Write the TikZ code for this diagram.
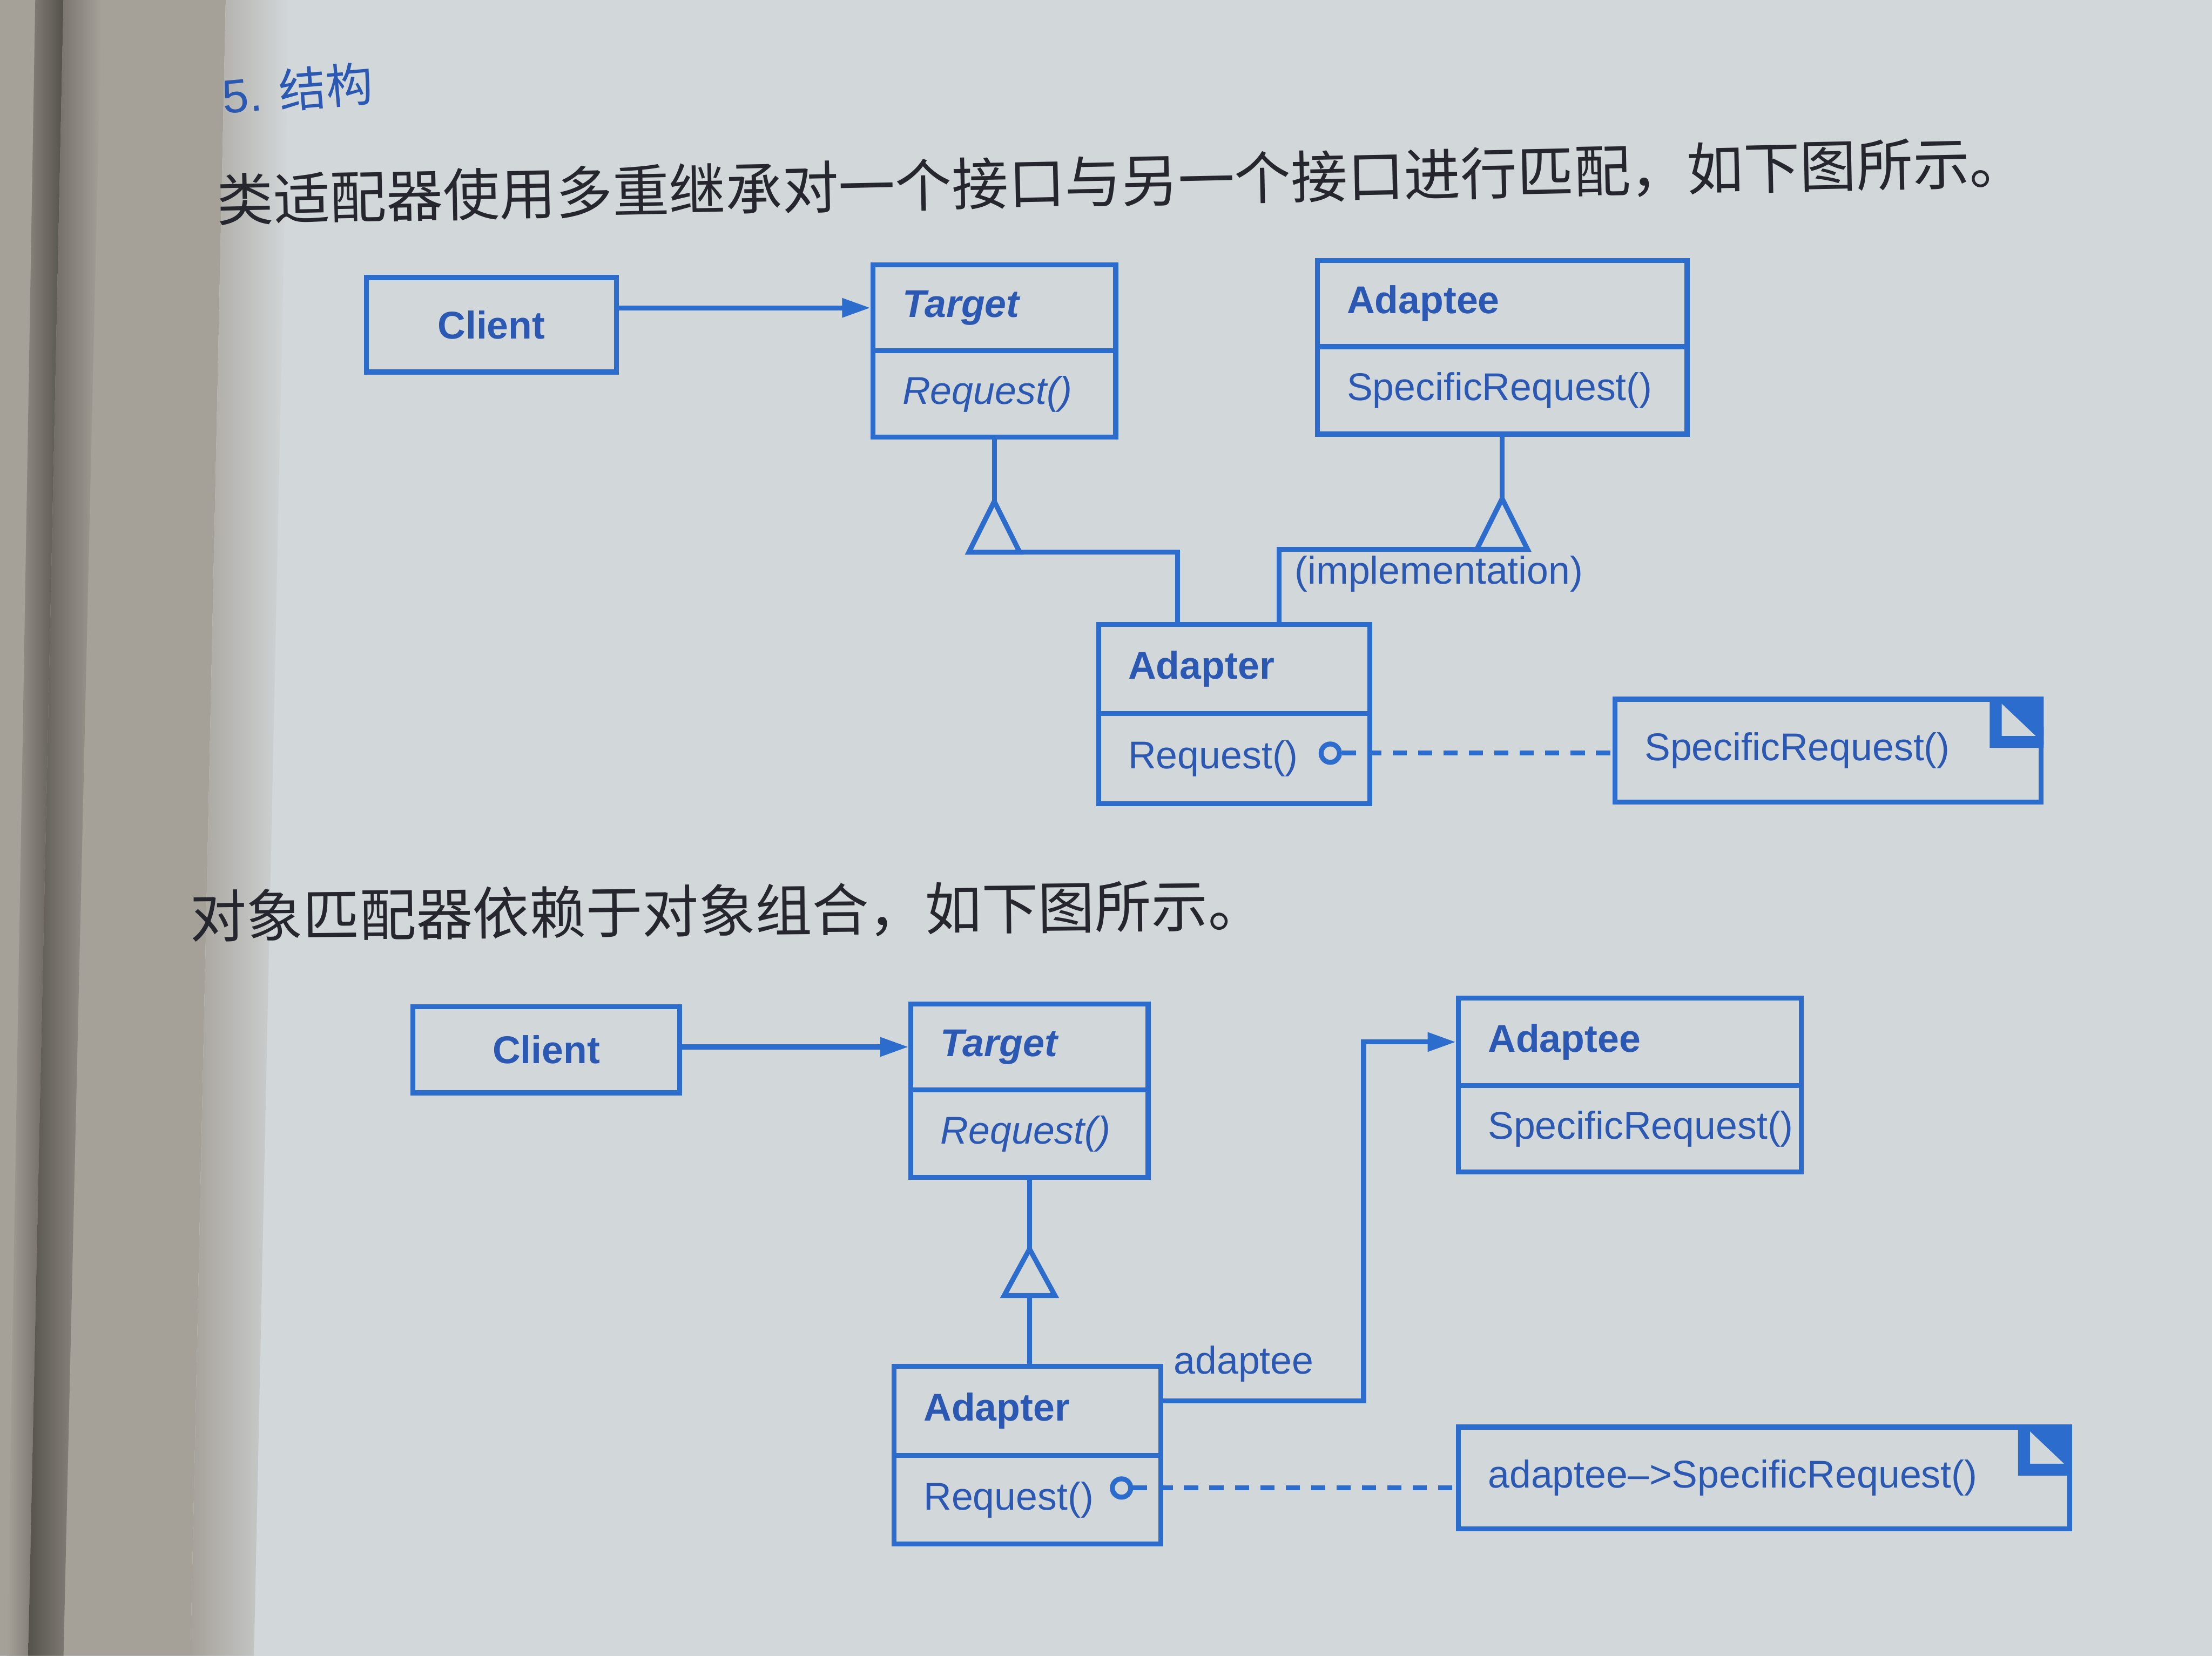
\documentclass[tikz,border=0pt]{standalone}
\usepackage{fontspec}
\setmainfont{Liberation Sans}
\newfontfamily\cjk{Noto Sans CJK SC}
\usetikzlibrary{arrows.meta,calc}
\definecolor{paper}{RGB}{210,215,217}
\definecolor{leftgray}{RGB}{165,161,153}
\definecolor{gutter}{RGB}{85,81,75}
\definecolor{umlblue}{RGB}{44,108,205}
\definecolor{txtblue}{RGB}{42,88,178}
\definecolor{ink}{RGB}{38,38,46}
\newcommand\umlfont{\fontsize{7.8}{9}\selectfont}
\newcommand\dogear[1]{%
  \begin{scope}
  \clip (#1.south west) rectangle (#1.north east);
  \fill[umlblue] ([xshift=-0.36cm]#1.north east) -- (#1.north east) -- ([yshift=-0.34cm]#1.north east) -- cycle;
  \draw[umlblue, line width=2.4pt, line join=miter, fill=paper]
    ([xshift=-0.34cm,yshift=0.05cm]#1.north east) -- ([xshift=-0.34cm,yshift=-0.32cm]#1.north east) -- ([xshift=0.05cm,yshift=-0.32cm]#1.north east) -- cycle;
  \end{scope}}
\tikzset{
  ln/.style={draw=umlblue, line width=1pt},
  cell/.code 2 args={\pgfmathsetmacro\cellw{#1-0.42}\pgfkeysalso{ln, anchor=north west, inner xsep=0.21cm, inner ysep=0pt, minimum width=#1cm, minimum height=#2cm, text width=\cellw cm, align=left, text=txtblue, font=\umlfont}},
  arr/.style={ln, -{Triangle[length=0.2cm,width=0.13cm]}},
  dsh/.style={ln, dash pattern=on 0.1cm off 0.08cm},
  lolli/.style={circle, ln, minimum size=0.13cm, inner sep=0pt},
  lbl/.style={text=txtblue, font=\umlfont},
}
\begin{document}
\begin{tikzpicture}[x=0.01cm,y=-0.01cm]
\useasboundingbox (0,0) rectangle (1568,1174);
% page background
\fill[paper] (0,0) rectangle (1568,1174);
\fill[leftgray] (0,0) -- (160,0) -- (135,1174) -- (0,1174) -- cycle;
\shade[left color=leftgray, right color=paper] (160,0) -- (205,0) -- (180,1174) -- (135,1174) -- cycle;
\shade[left color=leftgray, right color=gutter] (25,0) -- (45,0) -- (20,1174) -- (5,1174) -- cycle;
\shade[left color=gutter, right color=leftgray] (45,0) -- (72,0) -- (45,1174) -- (20,1174) -- cycle;

% texts
\node[anchor=west, rotate=5, text=txtblue, font=\fontsize{9.5}{11}\selectfont, inner sep=0pt] (h5) at (157,68) {5. {\cjk 结构}};
\node[anchor=west, rotate=1.2, text=ink, font=\cjk\fontsize{11.4}{13}\selectfont, inner sep=0pt] (p1) at (153,142) {类适配器使用多重继承对一个接口与另一个接口进行匹配，如下图所示。};
\node[anchor=west, rotate=0.6, text=ink, font=\cjk\fontsize{11.4}{13}\selectfont, inner sep=0pt] (p2) at (134,650) {对象匹配器依赖于对象组合，如下图所示。};

% ===== class adapter =====
\node[cell={1.77}{0.67}, align=center, font=\umlfont\bfseries] (c1) at (258,195) {Client};
\node[cell={1.72}{0.61}, font=\umlfont\bfseries\itshape] (t1h) at (617,186) {Target};
\node[cell={1.72}{0.61}, font=\umlfont\itshape] (t1m) at (617,247) {Request()};
\node[cell={2.62}{0.61}, font=\umlfont\bfseries] (e1h) at (932,183) {Adaptee};
\node[cell={2.62}{0.62}] (e1m) at (932,244) {SpecificRequest()};
\node[cell={1.92}{0.63}, font=\umlfont\bfseries] (a1h) at (777,441) {Adapter};
\node[cell={1.92}{0.64}] (a1m) at (777,504) {Request()};
\node[lolli] (o1) at (943,534) {};
\node[cell={3.02}{0.73}] (n1) at (1143,494) {SpecificRequest()};
\dogear{n1}

\draw[arr] (c1.east |- t1h.west) -- (t1h.west);
\coordinate (ap1) at ($(t1m.south)+(0,44)$);
\draw[ln] (t1m.south) -- (ap1);
\draw[ln] (ap1) -- ++(-18,36) -- ++(36,0) -- cycle;
\draw[ln] ($(ap1)+(0,36)$) -| ([xshift=-0.40cm]a1h.north);
\coordinate (ap2) at ($(e1m.south)+(0,44)$);
\draw[ln] (e1m.south) -- (ap2);
\draw[ln] (ap2) -- ++(-18,36) -- ++(36,0) -- cycle;
\draw[ln] ($(ap2)+(0,36)$) -| ([xshift=0.32cm]a1h.north);
\node[lbl] (lb1) at (1020,407) {(implementation)};
\draw[dsh] (o1.east) -- (o1.east -| n1.west);

% ===== object adapter =====
\node[cell={1.89}{0.61}, align=center, font=\umlfont\bfseries] (c2) at (291,712) {Client};
\node[cell={1.68}{0.61}, font=\umlfont\bfseries\itshape] (t2h) at (644,710) {Target};
\node[cell={1.68}{0.62}, font=\umlfont\itshape] (t2m) at (644,771) {Request()};
\node[cell={2.43}{0.62}, font=\umlfont\bfseries] (e2h) at (1032,706) {Adaptee};
\node[cell={2.43}{0.61}] (e2m) at (1032,768) {SpecificRequest()};
\node[cell={1.89}{0.63}, font=\umlfont\bfseries] (a2h) at (632,967) {Adapter};
\node[cell={1.89}{0.63}] (a2m) at (632,1030) {Request()};
\node[lolli] (o2) at (795,1055) {};
\node[cell={4.33}{0.72}] (n2) at (1032,1010) {adaptee-->SpecificRequest()};
\dogear{n2}

\draw[arr] (c2.east |- t2h.west) -- (t2h.west);
\coordinate (ap3) at ($(t2m.south)+(0,49)$);
\draw[ln] (t2m.south) -- (ap3);
\draw[ln] (ap3) -- ++(-18,33) -- ++(36,0) -- cycle;
\coordinate (bs3) at ($(ap3)+(0,33)$);
\draw[ln] (bs3) -- (bs3 |- a2h.north);
\draw[arr] ([yshift=0.07cm]a2h.east) -- ++(142,0) node[midway, above, xshift=-0.14cm, lbl] (lb2) {adaptee} |- (e2h.west);
\draw[dsh] (o2.east) -- (o2.east -| n2.west);
\end{tikzpicture}
\end{document}
